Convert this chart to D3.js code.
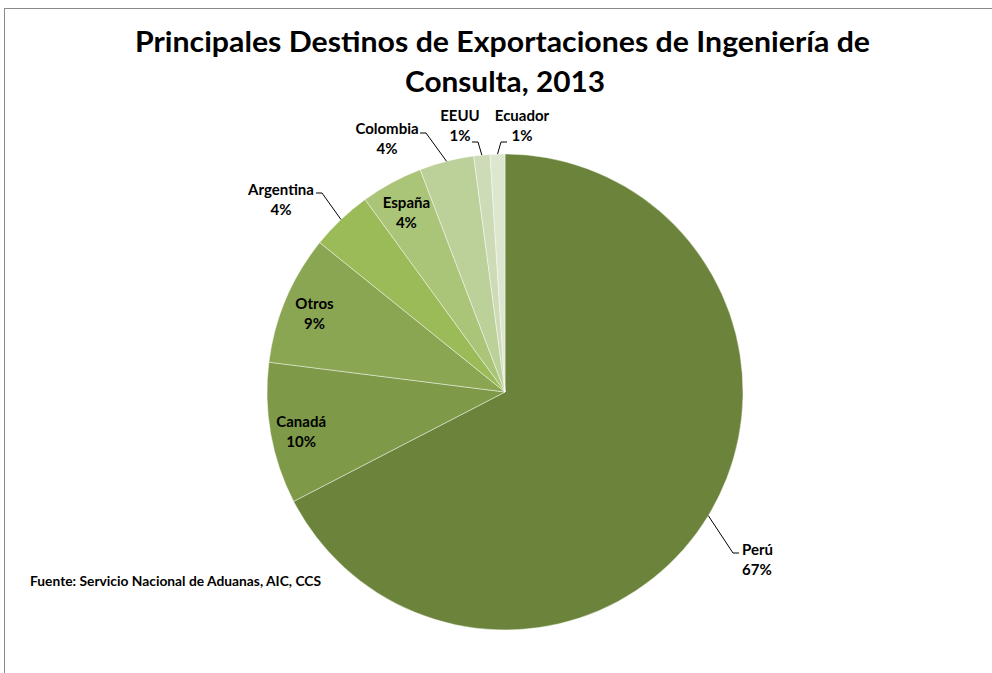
<!DOCTYPE html>
<html>
<head>
<meta charset="utf-8">
<script src="https://cdn.jsdelivr.net/npm/d3@7"></script>
<style>
  html, body { margin: 0; padding: 0; background: #fff; }
  svg { display: block; }
  text { font-family: Lato, "Open Sans", sans-serif; font-weight: bold; fill: #000; }
</style>
</head>
<body>
<svg id="chart" width="992" height="673"></svg>
<script>
// ---- data ----
const categories = ["Perú", "Canadá", "Otros", "Argentina", "España", "Colombia", "EEUU", "Ecuador"];
const values = [67.4, 9.6, 8.8, 4.2, 4.2, 3.7, 1.1, 1.0];
const colors = ["#6b833b", "#7e9a48", "#8aa653", "#9bbb59", "#aac478", "#bcd099", "#cddcb6", "#dde6cf"];
const titleLines = ["Principales Destinos de Exportaciones de Ingeniería de", "Consulta, 2013"];
const sourceText = "Fuente: Servicio Nacional de Aduanas, AIC, CCS";

// ---- layout ----
const W = 992, H = 673;
const cx = 505, cy = 392, R = 238;
// outside label placement (label centre/start, baseline of first line, leader start)
const outsideLayout = {
  "Perú":      { x: 742, y: 555, anchor: "start",  lead: [739, 553], dir: -1 },
  "Argentina": { x: 281, y: 195, anchor: "middle", lead: [316, 193], dir: 1 },
  "Colombia":  { x: 387, y: 134, anchor: "middle", lead: [420, 133], dir: 1 },
  "EEUU":      { x: 460, y: 121, anchor: "middle", lead: [472, 142], dir: 1 },
  "Ecuador":   { x: 522, y: 121, anchor: "middle", lead: [507, 142], dir: -1 }
};
const insideRadius = 207;

const svg = d3.select("#chart");

// chart area border
svg.append("rect")
  .attr("x", 4.5).attr("y", 8.5)
  .attr("width", 1100).attr("height", 800)
  .attr("fill", "none").attr("stroke", "#8a8a8a").attr("stroke-width", 1);

// title
function fitText(sel, width) {
  sel.attr("textLength", width).attr("lengthAdjust", "spacingAndGlyphs");
}
svg.append("text").attr("x", 502.5).attr("y", 52).attr("text-anchor", "middle")
  .style("font-size", "28px").text(titleLines[0]).call(fitText, 735);
svg.append("text").attr("x", 505).attr("y", 92).attr("text-anchor", "middle")
  .style("font-size", "28px").text(titleLines[1]).call(fitText, 200);

// pie
const total = d3.sum(values);
const data = categories.map((c, i) => ({ name: c, value: values[i] }));
const pie = d3.pie().value(d => d.value).sort(null);
const arcs = pie(data);
const arc = d3.arc().innerRadius(0).outerRadius(R);
const color = d3.scaleOrdinal().domain(categories).range(colors);
const pct = d3.format(".0%");

const g = svg.append("g").attr("transform", `translate(${cx},${cy})`);
g.selectAll("path").data(arcs).enter().append("path")
  .attr("d", arc)
  .attr("fill", d => color(d.data.name))
  .attr("stroke", "rgba(255,255,255,0.55)")
  .attr("stroke-width", 0.8);

const fs = 15;
arcs.forEach(a => {
  const name = a.data.name;
  const mid = (a.startAngle + a.endAngle) / 2;
  const label = pct(a.data.value / total);
  const lay = outsideLayout[name];
  if (lay) {
    const t = svg.append("text").attr("text-anchor", lay.anchor).style("font-size", fs + "px");
    t.append("tspan").attr("x", lay.x).attr("y", lay.y).text(name);
    t.append("tspan").attr("x", lay.x).attr("y", lay.y + 20).text(label);
    const ex = cx + R * Math.sin(mid), ey = cy - R * Math.cos(mid);
    const pts = [lay.lead, [lay.lead[0] + 6 * lay.dir, lay.lead[1]], [ex, ey]];
    svg.append("path").attr("d", d3.line()(pts))
      .attr("fill", "none").attr("stroke", "#000").attr("stroke-width", 1);
  } else {
    const lx = cx + insideRadius * Math.sin(mid), ly = cy - insideRadius * Math.cos(mid);
    const t = svg.append("text").attr("text-anchor", "middle").style("font-size", fs + "px");
    t.append("tspan").attr("x", lx).attr("y", ly - 1.5).text(name);
    t.append("tspan").attr("x", lx).attr("y", ly + 18.5).text(label);
  }
});

// source note
svg.append("text").attr("x", 30).attr("y", 586).style("font-size", "12.5px")
  .text(sourceText).call(fitText, 291);
</script>
</body>
</html>
